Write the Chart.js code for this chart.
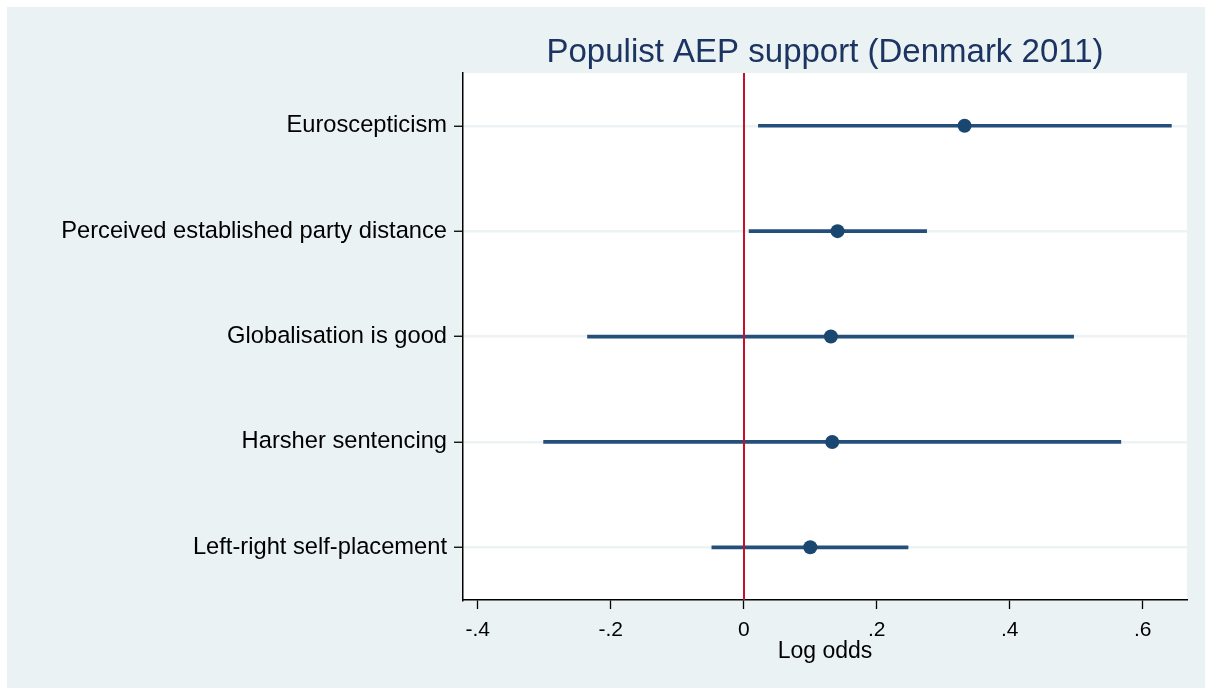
<!DOCTYPE html>
<html>
<head>
<meta charset="utf-8">
<title>Populist AEP support (Denmark 2011)</title>
<script src="https://cdn.jsdelivr.net/npm/chart.js@4/dist/chart.umd.min.js"></script>
<style>
  html, body { margin: 0; padding: 0; background: #ffffff; }
  #panel {
    position: absolute; left: 7px; top: 7px;
    width: 1198px; height: 681px;
    background: #eaf2f3;
  }
</style>
</head>
<body>
<div id="panel"><canvas id="chart"></canvas></div>
<script>
// Logit coefficients with 95% confidence intervals
const predictors = [
  "Euroscepticism",
  "Perceived established party distance",
  "Globalisation is good",
  "Harsher sentencing",
  "Left-right self-placement"
];
const estimates = [0.332, 0.141, 0.131, 0.133, 0.100];
const ciLower   = [0.022, 0.008, -0.235, -0.301, -0.048];
const ciUpper   = [0.643, 0.275, 0.496, 0.567, 0.247];
const xTickValues = [-0.4, -0.2, 0, 0.2, 0.4, 0.6];
const referenceValue = 0;

const intervals = ciLower.map((lo, i) => [lo, ciUpper[i]]);

function stataLabel(v) {
  if (Math.abs(v) < 1e-9) return "0";
  return v.toFixed(1).replace("0.", ".");
}

// White plot region behind the data
const plotBackground = {
  id: "plotBackground",
  beforeDraw(chart) {
    const { ctx, chartArea: a } = chart;
    ctx.save();
    ctx.fillStyle = "#ffffff";
    ctx.fillRect(a.left, a.top, a.right - a.left, a.bottom - a.top);
    ctx.restore();
  }
};

// Vertical reference line at zero log odds
const zeroLine = {
  id: "zeroLine",
  afterDatasetsDraw(chart) {
    const { ctx, chartArea: a, scales: { x } } = chart;
    const px = Math.round(x.getPixelForValue(referenceValue));
    ctx.save();
    ctx.strokeStyle = "#c8102e";
    ctx.lineWidth = 2;
    ctx.beginPath();
    ctx.moveTo(px, a.top);
    ctx.lineTo(px, a.bottom);
    ctx.stroke();
    ctx.restore();
  }
};

const FONT = "'Liberation Sans', Arial, Helvetica, sans-serif";

new Chart(document.getElementById("chart"), {
  type: "bar",
  data: {
    labels: predictors,
    datasets: [
      {
        type: "line",
        label: "Estimate",
        data: estimates,
        showLine: false,
        pointRadius: 7,
        pointHoverRadius: 7,
        pointBackgroundColor: "#1a476f",
        pointBorderColor: "#1a476f",
        pointBorderWidth: 0,
        order: 0
      },
      {
        type: "bar",
        label: "95% CI",
        data: intervals,
        backgroundColor: "#234f7a",
        borderWidth: 0,
        barThickness: 3,
        order: 1
      }
    ]
  },
  plugins: [plotBackground, zeroLine],
  options: {
    indexAxis: "y",
    responsive: true,
    maintainAspectRatio: false,
    animation: false,
    layout: { padding: { left: 0, right: 18, top: 0, bottom: 0 } },
    plugins: {
      legend: { display: false },
      tooltip: { enabled: false },
      title: {
        display: true,
        text: "Populist AEP support (Denmark 2011)",
        color: "#1c3461",
        fullSize: false,
        font: { family: FONT, size: 33, weight: "normal" },
        padding: { top: 26, bottom: 0.5 }
      }
    },
    scales: {
      x: {
        type: "linear",
        min: -0.4222,
        max: 0.6665,
        afterFit(scale) { scale.height = 88; },
        afterBuildTicks(scale) {
          scale.ticks = xTickValues.map(v => ({ value: v }));
        },
        ticks: {
          includeBounds: false,
          color: "#000000",
          padding: 9,
          font: { family: FONT, size: 21 },
          callback: (v) => stataLabel(v)
        },
        grid: {
          drawOnChartArea: false,
          tickColor: "#000000",
          tickLength: 9,
          tickWidth: 1.3
        },
        border: { display: true, color: "#000000", width: 1.5 },
        title: {
          display: true,
          text: "Log odds",
          color: "#000000",
          font: { family: FONT, size: 23 },
          padding: { top: 0, bottom: 23 }
        }
      },
      y: {
        type: "category",
        offset: true,
        afterFit(scale) { scale.width = 456; },
        ticks: {
          color: "#000000",
          padding: 7,
          font: { family: FONT, size: 23.7 }
        },
        grid: {
          offset: false,
          color: "#edf2f4",
          lineWidth: 2.5,
          tickColor: "#000000",
          tickLength: 9,
          tickWidth: 1.3
        },
        border: { display: true, color: "#000000", width: 1.5 }
      }
    }
  }
});
</script>
</body>
</html>
